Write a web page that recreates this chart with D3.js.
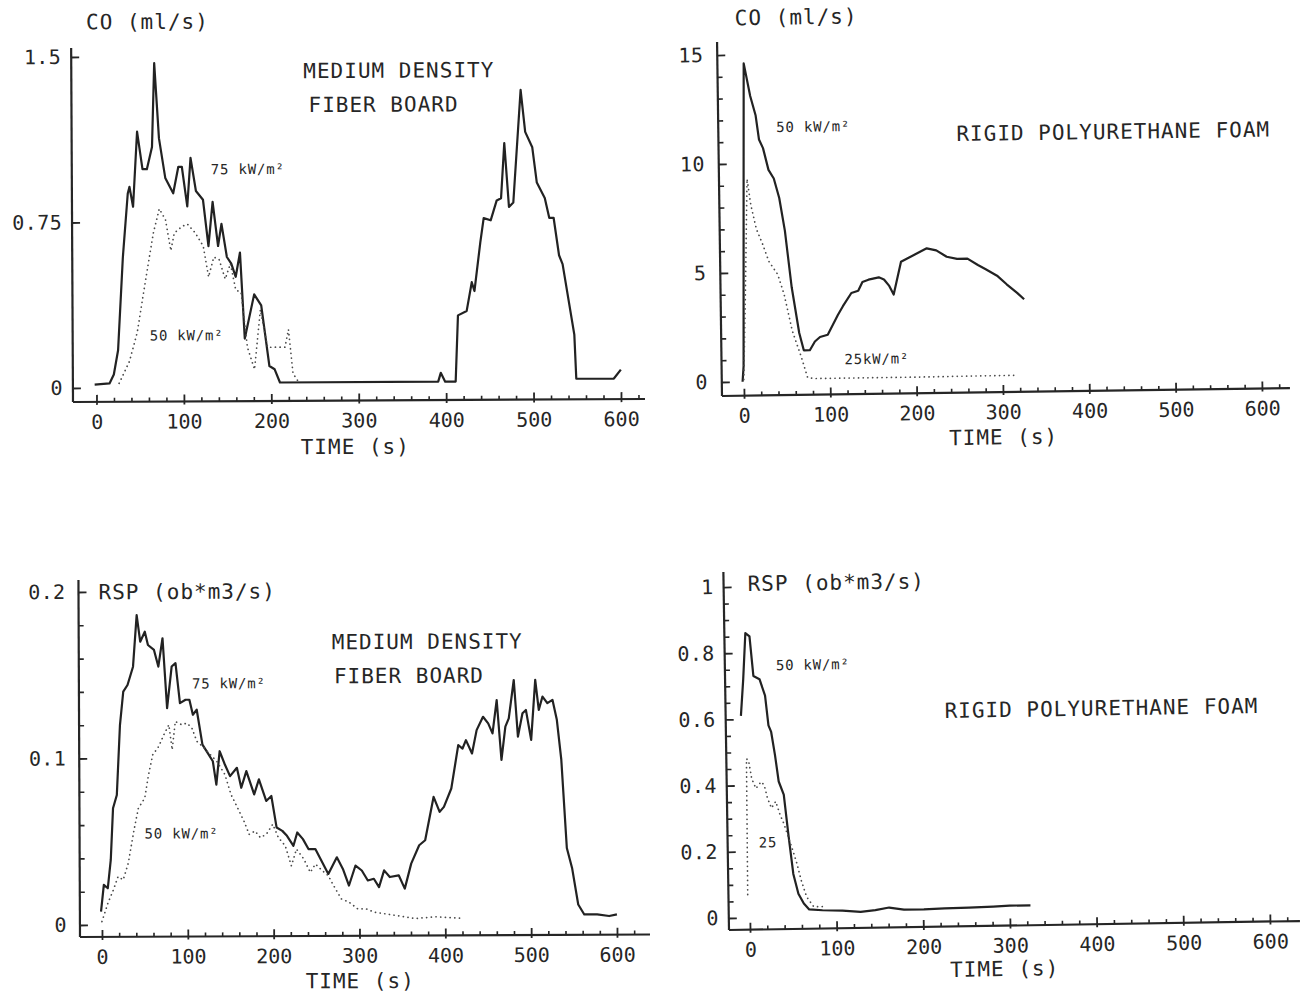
<!DOCTYPE html>
<html>
<head>
<meta charset="utf-8">
<script src="https://cdn.jsdelivr.net/npm/d3@7"></script>
<style>
  html, body { margin: 0; background: #fff; }
  svg text { font-family: "DejaVu Sans Mono", "Liberation Mono", monospace; fill: #262626; }
</style>
</head>
<body>
<svg id="chart" width="1306" height="994"></svg>
<script>
// ---- time axis (s) ----
const timeTicks = [0, 100, 200, 300, 400, 500, 600];

// ---- tick labels of the value axes ----
const mdfCOTicks = [0, 0.75, 1.5];
const rpfCOTicks = [0, 5, 10, 15];
const mdfRSPTicks = [0, 0.1, 0.2];
const rpfRSPTicks = [0, 0.2, 0.4, 0.6, 0.8, 1];

// ---- CO production, medium density fiber board: [time s, CO ml/s] ----
const mdfCO75 = [[-2,0.015],[15,0.02],[20,0.06],[25,0.17],[31,0.59],[37,0.88],[39,0.91],[43,0.82],[48,1.16],[54,0.99],[59,0.99],[65,1.09],[68,1.47],[73,1.13],[80,0.95],[89,0.88],[95,1.0],[99,1.0],[105,0.82],[109,1.04],[115,0.89],[123,0.85],[129,0.64],[134,0.84],[140,0.64],[144,0.74],[150,0.59],[155,0.56],[160,0.50],[165,0.61],[170,0.22],[181,0.42],[189,0.37],[198,0.095],[204,0.08],[210,0.02],[391,0.02],[394,0.06],[399,0.02],[411,0.02],[414,0.32],[424,0.34],[430,0.47],[433,0.43],[440,0.65],[444,0.76],[452,0.75],[459,0.84],[464,0.85],[468,1.10],[473,0.81],[478,0.83],[487,1.34],[492,1.15],[500,1.08],[505,0.92],[514,0.85],[519,0.76],[524,0.76],[530,0.59],[534,0.55],[547,0.23],[549,0.03],[592,0.03],[600,0.07]];
const mdfCO50 = [[26,0.02],[38,0.12],[47,0.25],[57,0.49],[66,0.70],[73,0.81],[80,0.76],[86,0.62],[90,0.70],[99,0.73],[105,0.74],[114,0.70],[123,0.64],[129,0.50],[135,0.59],[141,0.58],[148,0.49],[154,0.56],[160,0.44],[166,0.43],[173,0.18],[181,0.08],[188,0.35],[196,0.18],[204,0.18],[216,0.18],[220,0.26],[225,0.06],[230,0.03]];

// ---- CO production, rigid polyurethane foam ----
const rpfCO50 = [[-1.4,0],[0,0.7],[2.4,7.5],[5,14.6],[12,13.1],[18,12.2],[21.5,11.1],[26,10.7],[32,9.7],[38,9.3],[44,8.4],[50,6.9],[57,4.3],[65,2.2],[70,1.4],[77,1.4],[83,1.8],[89,2.0],[98,2.1],[110,3.0],[116,3.4],[126,4.0],[134,4.1],[139,4.5],[146,4.6],[158,4.7],[164,4.6],[170,4.3],[175,3.9],[184,5.4],[194,5.6],[204,5.8],[214,6.0],[225,5.9],[237,5.6],[249,5.5],[261,5.5],[273,5.2],[282,5.0],[295,4.7],[306,4.3],[318,3.9],[326,3.6]];
const rpfCO25 = [[0,0.1],[3,3.7],[7,9.3],[11,8.1],[17,7.0],[24,6.3],[31,5.5],[41,4.9],[48,4.0],[57,2.3],[67,1.1],[74,0.15],[81,0.1],[200,0.1],[316,0.12]];

// ---- smoke production, medium density fiber board: [time s, RSP ob*m3/s] ----
const mdfRSP75 = [[-1,0.008],[2.4,0.024],[7,0.022],[10.6,0.039],[13.5,0.070],[18,0.078],[22,0.120],[26,0.140],[31,0.144],[37.5,0.155],[42,0.186],[46,0.170],[51.4,0.176],[55,0.168],[62,0.165],[67,0.155],[72,0.172],[77,0.130],[82.5,0.155],[87,0.157],[92,0.133],[98.5,0.135],[103,0.135],[107,0.126],[111.5,0.129],[118,0.108],[124,0.103],[130,0.098],[134,0.084],[138,0.104],[144,0.096],[150,0.089],[158,0.094],[163,0.082],[169,0.092],[178,0.078],[183.6,0.087],[192,0.074],[198,0.077],[204,0.058],[210.6,0.056],[216,0.053],[223.5,0.047],[228,0.055],[234.6,0.051],[241,0.045],[249,0.045],[255,0.039],[264,0.030],[274,0.040],[281,0.033],[288,0.023],[295.7,0.035],[303,0.032],[310,0.026],[317,0.027],[323,0.022],[329,0.032],[335.6,0.028],[346,0.029],[353,0.021],[360.6,0.036],[370,0.047],[377,0.050],[387,0.076],[394,0.067],[399,0.070],[407.7,0.081],[416,0.107],[421,0.105],[425,0.110],[432,0.102],[437.5,0.116],[445,0.124],[451,0.120],[456,0.114],[461,0.134],[466.3,0.098],[471,0.118],[475,0.123],[481,0.146],[485.6,0.112],[491,0.126],[495,0.128],[501,0.110],[506,0.146],[510,0.128],[514.4,0.136],[520,0.132],[526,0.134],[531,0.122],[536,0.098],[542,0.045],[548,0.033],[555,0.011],[562,0.005],[577,0.005],[591,0.004],[600,0.005]];
const mdfRSP50 = [[0,0.002],[7,0.013],[13.5,0.021],[19,0.029],[25,0.027],[31,0.037],[37.5,0.056],[43,0.070],[50.5,0.076],[55,0.090],[60,0.102],[67,0.107],[73,0.114],[79,0.120],[82.7,0.105],[86.5,0.122],[94,0.120],[100,0.121],[105.8,0.118],[111.5,0.110],[120,0.106],[127,0.102],[134.6,0.098],[144,0.090],[151,0.078],[158.6,0.070],[166,0.062],[172,0.054],[178.8,0.056],[185,0.052],[192,0.054],[199.5,0.060],[206,0.052],[214,0.047],[221,0.035],[227,0.045],[235.6,0.039],[243,0.031],[249,0.036],[257,0.032],[264,0.029],[269,0.024],[279,0.015],[288,0.013],[298,0.009],[307.7,0.009],[317,0.007],[341,0.005],[365,0.003],[389,0.004],[420,0.003]];

// ---- smoke production, rigid polyurethane foam ----
const rpfRSP50 = [[-6.6,0.61],[-3.3,0.72],[0,0.86],[4.7,0.85],[8.5,0.73],[15.5,0.72],[21.6,0.67],[25,0.58],[28,0.56],[32,0.49],[35.8,0.41],[41.4,0.37],[46,0.25],[51,0.13],[56.5,0.07],[62.6,0.04],[68.7,0.022],[84,0.019],[107,0.017],[128,0.012],[145,0.017],[161,0.024],[178,0.017],[201,0.017],[225,0.019],[253,0.020],[281,0.022],[300,0.024],[324,0.024]];
const rpfRSP25 = [[-2,0.07],[-1,0.48],[1.4,0.475],[4.7,0.42],[9.4,0.39],[15.5,0.41],[19,0.40],[22.6,0.36],[27,0.33],[32,0.35],[36.7,0.31],[41.4,0.28],[46,0.24],[51,0.20],[55.5,0.16],[60,0.11],[66,0.06],[74,0.03],[86,0.03]];

// ---- panel layout ----
const svg = d3.select("#chart");

const panels = [
  {
    ox: 73, oy: 402, rot: -0.3, xRange: [23.5, 548], yRange: [-14, -345], yDomain: [0, 1.5],
    xLen: 572, yLen: 354, yTicks: mdfCOTicks, yMinorStep: null, yLabelX: -10,
    series: [{ data: mdfCO75, dotted: false }, { data: mdfCO50, dotted: true }],
    texts: [
      { t: "CO (ml/s)", x: 15, y: -380, size: 21 },
      { t: "MEDIUM DENSITY", x: 232, y: -330, size: 21 },
      { t: "FIBER BOARD", x: 237, y: -296, size: 21 },
      { t: "75 kW/m²", x: 139, y: -232, size: 14 },
      { t: "50 kW/m²", x: 77, y: -66, size: 14 },
      { t: "TIME (s)", x: 282, y: 46, size: 21, anchor: "middle" }
    ]
  },
  {
    ox: 722, oy: 396, rot: -0.8, xRange: [22, 540], yRange: [-14, -341], yDomain: [0, 15],
    xLen: 568, yLen: 354, yTicks: rpfCOTicks, yMinorStep: 1, yLabelX: -14,
    series: [{ data: rpfCO50, dotted: false }, { data: rpfCO25, dotted: true }],
    texts: [
      { t: "CO (ml/s)", x: 18, y: -378, size: 21 },
      { t: "50 kW/m²", x: 58, y: -268, size: 14 },
      { t: "RIGID POLYURETHANE FOAM", x: 238, y: -259, size: 21 },
      { t: "25kW/m²", x: 123, y: -35, size: 14 },
      { t: "TIME (s)", x: 281, y: 45, size: 21, anchor: "middle" }
    ]
  },
  {
    ox: 80, oy: 937, rot: -0.25, xRange: [22, 537], yRange: [-12, -345], yDomain: [0, 0.2],
    xLen: 570, yLen: 357, yTicks: mdfRSPTicks, yMinorStep: 0.02, yLabelX: -13,
    series: [{ data: mdfRSP75, dotted: false }, { data: mdfRSP50, dotted: true }],
    texts: [
      { t: "RSP (ob*m3/s)", x: 20, y: -345, size: 21 },
      { t: "MEDIUM DENSITY", x: 253, y: -294, size: 21 },
      { t: "FIBER BOARD", x: 255, y: -260, size: 21 },
      { t: "75 kW/m²", x: 113, y: -253, size: 14 },
      { t: "50 kW/m²", x: 65, y: -103, size: 14 },
      { t: "TIME (s)", x: 280, y: 45, size: 21, anchor: "middle" }
    ]
  },
  {
    ox: 729, oy: 930, rot: -0.9, xRange: [21, 541], yRange: [-12, -343], yDomain: [0, 1],
    xLen: 571, yLen: 358, yTicks: rpfRSPTicks, yMinorStep: 0.05, yLabelX: -10,
    series: [{ data: rpfRSP50, dotted: false }, { data: rpfRSP25, dotted: true }],
    texts: [
      { t: "RSP (ob*m3/s)", x: 24, y: -346, size: 21 },
      { t: "50 kW/m²", x: 51, y: -264, size: 14 },
      { t: "RIGID POLYURETHANE FOAM", x: 219, y: -216, size: 21 },
      { t: "25", x: 31, y: -87, size: 14 },
      { t: "TIME (s)", x: 275, y: 43, size: 21, anchor: "middle" }
    ]
  }
];

const ink = "#262626";

function drawPanel(p) {
  const g = svg.append("g")
    .attr("transform", `translate(${p.ox},${p.oy}) rotate(${p.rot})`);

  const x = d3.scaleLinear().domain([0, 600]).range(p.xRange);
  const y = d3.scaleLinear().domain(p.yDomain).range(p.yRange);

  // axis lines
  g.append("line").attr("x1", 0).attr("y1", 0).attr("x2", p.xLen).attr("y2", 0)
    .attr("stroke", ink).attr("stroke-width", 2.2);
  g.append("line").attr("x1", 0).attr("y1", 0).attr("x2", 0).attr("y2", -p.yLen)
    .attr("stroke", ink).attr("stroke-width", 2.2);

  // time axis: minor ticks every 20 s
  const minorX = d3.range(0, 621, 20).filter(v => v % 100 !== 0);
  const gxm = g.append("g").call(
    d3.axisBottom(x).tickValues(minorX).tickSize(-4).tickSizeOuter(0).tickFormat("")
  );
  gxm.select(".domain").remove();
  gxm.selectAll(".tick line").attr("stroke", ink).attr("stroke-width", 1.6);

  // time axis: labelled ticks every 100 s
  const gx = g.append("g").call(
    d3.axisBottom(x).tickValues(timeTicks).tickSize(3).tickSizeOuter(0).tickFormat(d => String(d))
  );
  gx.select(".domain").remove();
  gx.selectAll(".tick line").attr("y1", -7).attr("y2", 3)
    .attr("stroke", ink).attr("stroke-width", 1.8);
  gx.selectAll(".tick text")
    .attr("y", 27).attr("dy", null)
    .style("font-size", "20px").style("letter-spacing", "0px")
    .style("font-family", "DejaVu Sans Mono, monospace").attr("fill", ink);

  // value axis: minor ticks
  if (p.yMinorStep) {
    const n = Math.round(p.yDomain[1] / p.yMinorStep);
    const minorY = d3.range(0, n + 1).map(i => +(i * p.yMinorStep).toFixed(4))
      .filter(v => !p.yTicks.some(t => Math.abs(t - v) < 1e-6));
    const gym = g.append("g").call(
      d3.axisRight(y).tickValues(minorY).tickSize(5).tickSizeOuter(0).tickFormat("")
    );
    gym.select(".domain").remove();
    gym.selectAll(".tick line").attr("stroke", ink).attr("stroke-width", 1.6);
  }

  // value axis: labelled ticks
  const gy = g.append("g").call(
    d3.axisRight(y).tickValues(p.yTicks).tickSize(8).tickSizeOuter(0).tickFormat(d => String(d))
  );
  gy.select(".domain").remove();
  gy.selectAll(".tick line").attr("stroke", ink).attr("stroke-width", 1.8);
  gy.selectAll(".tick text")
    .attr("x", p.yLabelX).attr("text-anchor", "end")
    .style("font-size", "20px").style("letter-spacing", "0.4px")
    .style("font-family", "DejaVu Sans Mono, monospace").attr("fill", ink);

  // data series
  const line = d3.line().x(d => x(d[0])).y(d => y(d[1]));
  p.series.forEach(s => {
    const path = g.append("path").datum(s.data).attr("d", line).attr("fill", "none");
    if (s.dotted) {
      path.attr("stroke", "#4a4a4a").attr("stroke-width", 1.7)
        .attr("stroke-linecap", "round").attr("stroke-dasharray", "0.1 4.6");
    } else {
      path.attr("stroke", "#222").attr("stroke-width", 2.2)
        .attr("stroke-linejoin", "round");
    }
  });

  // annotations and axis titles
  p.texts.forEach(t => {
    g.append("text")
      .attr("x", t.x).attr("y", t.y).attr("dy", "0.35em")
      .attr("text-anchor", t.anchor || "start")
      .style("font-size", t.size + "px")
      .style("letter-spacing", t.size >= 18 ? "1px" : "0.8px")
      .text(t.t);
  });
}

panels.forEach(drawPanel);
</script>
</body>
</html>
